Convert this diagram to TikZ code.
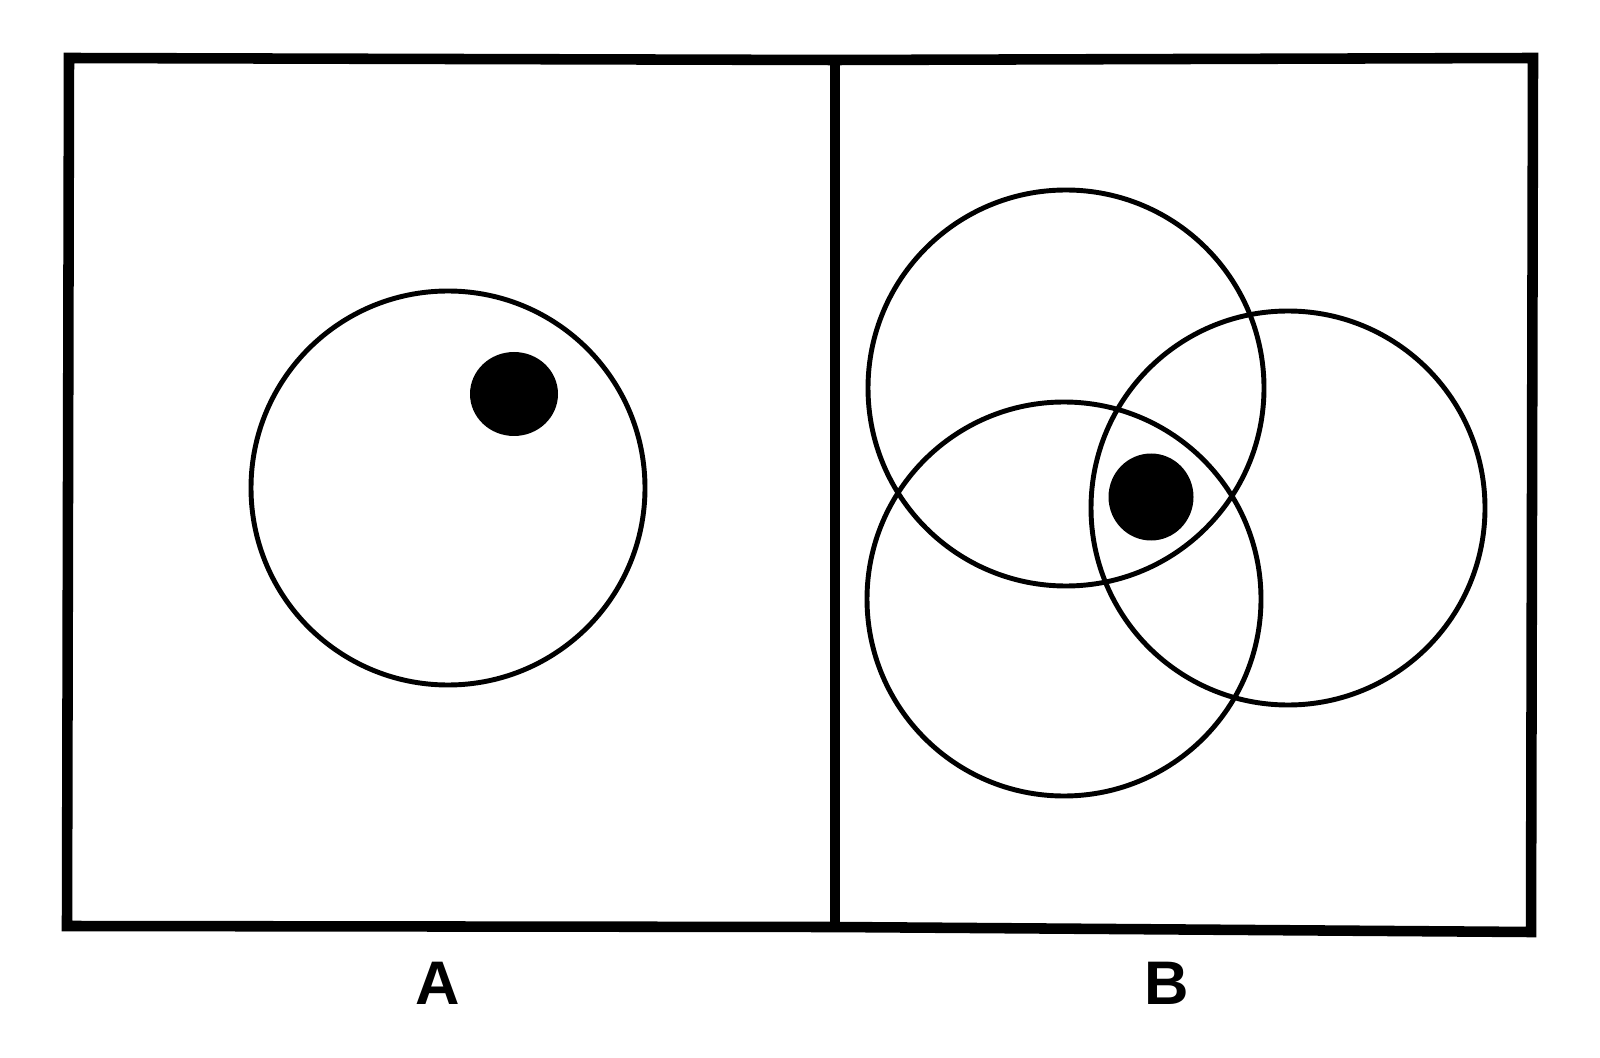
\documentclass[tikz,border=0pt]{standalone}
\usepackage{fontspec}
\setmainfont{Liberation Sans}
\begin{document}
\begin{tikzpicture}[x=0.01cm,y=-0.01cm,
  frame/.style={line width=3pt,line join=miter},
  ring/.style={line width=1.4pt},
  spot/.style={fill=black},
  lbl/.style={font=\fontsize{17.5}{20}\selectfont\bfseries}]
\useasboundingbox (0,0) rectangle (1600,1058);
\fill[white] (0,0) rectangle (1600,1058);
% frame
\draw[frame] (69,58) -- (835,60) -- (1533,58) -- (1531,932) -- (835,927) -- (67,926) -- cycle;
\draw[frame] (835,60) -- (835,927);
% panel A
\draw[ring] (448,488) circle (197);
\fill[spot] (514,394) ellipse (44 and 42);
% panel B
\draw[ring] (1066,388) circle (198);
\draw[ring] (1288,508) circle (197);
\draw[ring] (1064,599) circle (197);
\fill[spot] (1151,497) ellipse (42.5 and 43.5);
% labels
\node[lbl] (la) at (438,983) {A};
\node[lbl] (lb) at (1167,983) {B};
\end{tikzpicture}
\end{document}
